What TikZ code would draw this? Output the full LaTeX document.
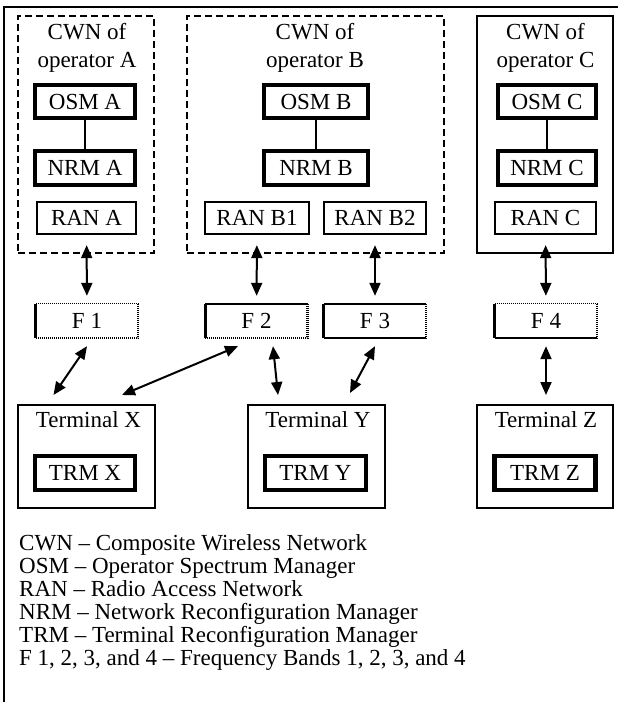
\documentclass[tikz,border=0pt]{standalone}
\usepackage{fontspec}
\setmainfont{Liberation Serif}
\usetikzlibrary{arrows.meta,calc}
\begin{document}
\begin{tikzpicture}[x=1pt,y=-1pt,
  every node/.style={font=\fontsize{23}{27.5}\selectfont, inner sep=0pt},
  cwndash/.style={draw, line width=2.5pt, dash pattern=on 7pt off 4pt, minimum height=237pt},
  cwnsolid/.style={draw, line width=2pt, minimum height=237pt},
  title/.style={align=center, anchor=north},
  thickbox/.style={draw, line width=4.5pt},
  medbox/.style={draw, line width=2.3pt, minimum height=32pt},
  termbox/.style={draw, line width=2pt, minimum width=137pt, minimum height=103pt},
  fbox/.style={minimum width=102pt, minimum height=34pt},
  fleft/.style={line width=3pt},
  fdotthin/.style={line width=1.2pt, dash pattern=on 1pt off 1pt},
  fdotthick/.style={line width=2.5pt, dash pattern=on 1pt off 1pt},
  fsolidthin/.style={line width=1.5pt},
  fsolidthick/.style={line width=2.5pt},
  link/.style={line width=2pt},
  dbl/.style={{Triangle[length=13pt,width=11pt]}-{Triangle[length=13pt,width=11pt]}, line width=2pt},
  legendtext/.style={anchor=north west, align=left, font=\fontsize{23}{23}\selectfont}
]
\useasboundingbox (0,0) rectangle (618,702);
% outer frame (left and top)
\draw[line width=2.3pt] (4,702) -- (4,7) -- (618,7);

% CWN containers
\node[cwndash, minimum width=136pt] (cwnA) at (86,134.5) {};
\node[cwndash, minimum width=257pt] (cwnB) at (315.5,134.5) {};
\node[cwnsolid, minimum width=136pt] (cwnC) at (545,134.5) {};

\node[title] (tA) at (87,23.5) {CWN of\\operator A};
\node[title] (tB) at (315,23.5) {CWN of\\operator B};
\node[title] (tC) at (545.5,23.5) {CWN of\\operator C};

% operator A
\node[thickbox, minimum width=100pt, minimum height=33pt] (osmA) at (85,101.5) {OSM A};
\node[thickbox, minimum width=100pt, minimum height=34pt] (nrmA) at (85,168) {NRM A};
\node[medbox, minimum width=99pt] (ranA) at (86.5,218) {RAN A};
% operator B
\node[thickbox, minimum width=104pt, minimum height=33pt] (osmB) at (316,101.5) {OSM B};
\node[thickbox, minimum width=104pt, minimum height=34pt] (nrmB) at (316,168) {NRM B};
\node[medbox, minimum width=104pt] (ranB1) at (257,218) {RAN B1};
\node[medbox, minimum width=102pt] (ranB2) at (375,218) {RAN B2};
% operator C
\node[thickbox, minimum width=98pt, minimum height=33pt] (osmC) at (547,101.5) {OSM C};
\node[thickbox, minimum width=98pt, minimum height=34pt] (nrmC) at (547,168) {NRM C};
\node[medbox, minimum width=101pt] (ranC) at (545.5,218) {RAN C};

\draw[link] (osmA) -- (nrmA);
\draw[link] (osmB) -- (nrmB);
\draw[link] (osmC) -- (nrmC);

% frequency bands
\node[fbox] (f1) at (87,321) {F 1};
\node[fbox] (f2) at (256.5,321) {F 2};
\node[fbox] (f3) at (375,321) {F 3};
\node[fbox] (f4) at (546,321) {F 4};

\draw[fleft] (f1.south west) -- (f1.north west);
\draw[fdotthin] (f1.north west) -- (f1.north east);
\draw[fdotthick] (f1.north east) -- (f1.south east) -- (f1.south west);

\draw[fleft] (f2.south west) -- (f2.north west);
\draw[fsolidthin] (f2.north west) -- (f2.north east);
\draw[fdotthick] (f2.north east) -- (f2.south east) -- (f2.south west);

\draw[fleft] (f3.south west) -- (f3.north west);
\draw[fsolidthin] (f3.north west) -- (f3.north east);
\draw[fdotthick] (f3.north east) -- (f3.south east);
\draw[fsolidthick] (f3.south east) -- (f3.south west);

\draw[fleft] (f4.south west) -- (f4.north west);
\draw[fdotthin] (f4.north west) -- (f4.north east);
\draw[fdotthick] (f4.north east) -- (f4.south east);
\draw[fsolidthick] (f4.south east) -- (f4.south west);

% terminals
\node[termbox] (tX) at (86.5,456.5) {};
\node[termbox] (tY) at (316,456.5) {};
\node[termbox, minimum width=136pt] (tZ) at (545,456.5) {};
\node[anchor=base] (tXl) at ($(tX.north)+(2,23)$) {Terminal X};
\node[anchor=base] (tYl) at ($(tY.north)+(2,23)$) {Terminal Y};
\node[anchor=base] (tZl) at ($(tZ.north)+(1,23)$) {Terminal Z};
\node[thickbox, minimum width=100pt, minimum height=34pt] (trmX) at (85,473) {TRM X};
\node[thickbox, minimum width=101pt, minimum height=34pt] (trmY) at (315.5,473) {TRM Y};
\node[thickbox, minimum width=101pt, minimum height=34pt] (trmZ) at (545,473) {TRM Z};

% arrows CWN -> bands
\draw[dbl, shorten <=10pt, shorten >=8pt] (ranA) -- (f1);
\draw[dbl, shorten <=10pt, shorten >=8pt] (ranB1) -- (f2);
\draw[dbl, shorten <=10pt, shorten >=8pt] (ranB2) -- (f3);
\draw[dbl, shorten <=10pt, shorten >=8pt] (ranC) -- (f4);

% arrows bands -> terminals
\draw[dbl] ($(f1.south)+(0,8)$) -- ($(tX.north)+(-33,-9)$);
\draw[dbl] ($(f2.south)+(-18.5,8)$) -- ($(tX.north)+(35.5,-9)$);
\draw[dbl] ($(f2.south)+(16.5,8)$) -- ($(tY.north)+(-38,-9)$);
\draw[dbl] ($(f3.south)+(0,8)$) -- ($(tY.north)+(34,-11)$);
\draw[dbl] ($(f4.south)+(0,8)$) -- ($(f4.south |- tZ.north)+(0,-9)$);

% legend
\node[legendtext] (legend) at (19,534.5) {CWN – Composite Wireless Network\\
OSM – Operator Spectrum Manager\\
RAN – Radio Access Network\\
NRM – Network Reconfiguration Manager\\
TRM – Terminal Reconfiguration Manager\\
F 1, 2, 3, and 4 – Frequency Bands 1, 2, 3, and 4};
\end{tikzpicture}
\end{document}
